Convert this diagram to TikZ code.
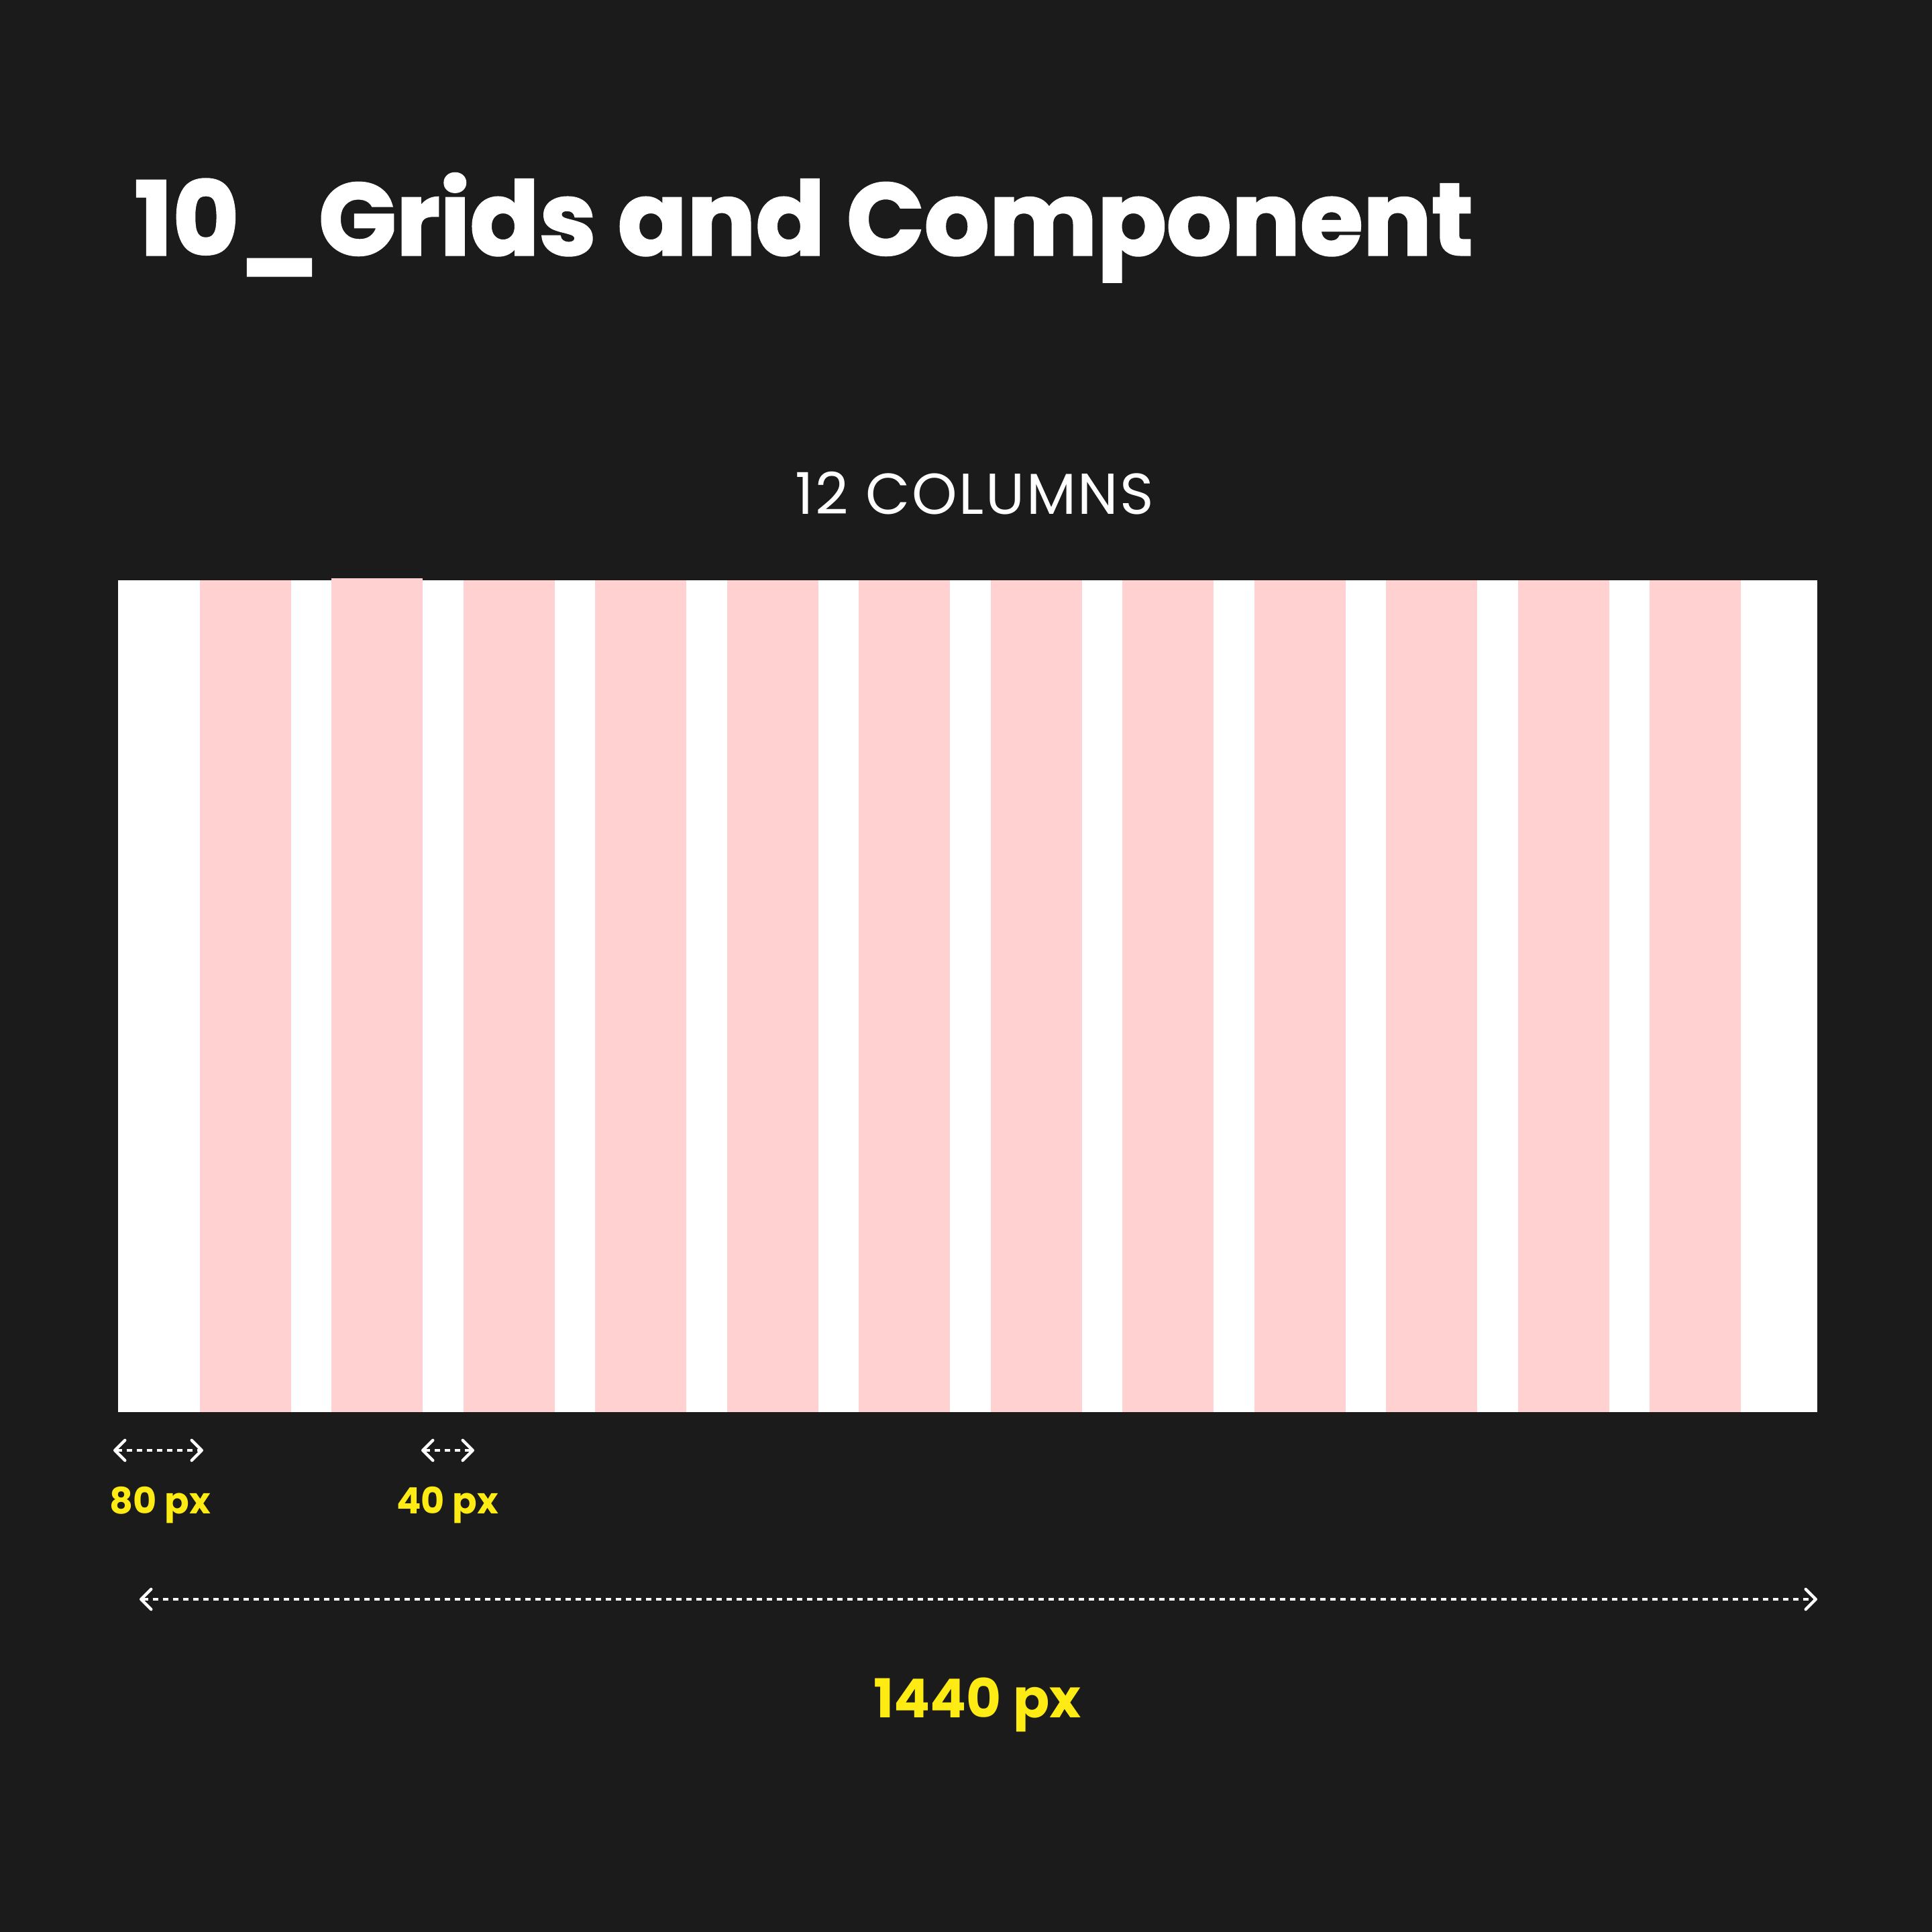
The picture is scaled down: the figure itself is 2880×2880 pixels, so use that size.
\documentclass[tikz,border=0pt]{standalone}
\usepackage{fontspec}
\setmainfont{Poppins}
\usetikzlibrary{arrows.meta, positioning}

\definecolor{pagebg}{HTML}{1B1B1B}
\definecolor{colpink}{HTML}{FFD1D1}
\definecolor{dimyellow}{HTML}{FFEB14}

\begin{document}
\begin{tikzpicture}[
    x=1pt, y=-1pt,
    heading/.style={anchor=base west, inner sep=0pt, text=white, font=\fontsize{152}{160}\selectfont\bfseries\addfontfeatures{FakeBold=2}},
    caption/.style={anchor=base, inner sep=0pt, text=white, font=\fontsize{86}{90}\selectfont\addfontfeatures{LetterSpace=3}},
    dimlabel/.style={anchor=base, inner sep=0pt, text=dimyellow, font=\fontsize{54}{60}\selectfont\bfseries},
    biglabel/.style={anchor=base, inner sep=0pt, text=dimyellow, font=\fontsize{80}{90}\selectfont\bfseries},
    dimline/.style={white, line width=4pt, dash pattern=on 8pt off 7pt,
        {Straight Barb[round, length=15pt, width=30pt, line width=4.5pt]}-{Straight Barb[round, length=15pt, width=30pt, line width=4.5pt]}}
]
    % Page background and frame
    \fill[pagebg] (0,0) rectangle (2880,2880);
    \useasboundingbox (0,0) rectangle (2880,2880);
    % Title and caption
    \node[heading] (title) at (200,380) {10\_Grids and Component};
    \node[caption] (cols) at (1453,766) {12 COLUMNS};
    % Screen area with 12 columns
    \fill[white] (176,865) rectangle (2709,2105);
    \foreach \i in {0,...,11}
        \fill[colpink] ({297.5+196.5*\i},865) rectangle ++(136,1240);
    \fill[colpink] (494,862) rectangle ++(136,1241);
    % Dimension marks
    \coordinate (margL) at (169,2162);
    \coordinate (margR) at (303,2162);
    \coordinate (gutL) at (628,2162);
    \coordinate (gutR) at (707,2162);
    \coordinate (fullL) at (208,2384);
    \coordinate (fullR) at (2709,2384);
    \draw[dimline] (margL) -- (margR);
    \draw[dimline] (gutL) -- (gutR);
    \draw[dimline] (fullL) -- (fullR);
    \node[dimlabel] (margin) at (239,2256) {80 px};
    \node[dimlabel] (gutter) at (667,2256) {40 px};
    \node[biglabel] (width) at (1457,2560) {1440 px};
\end{tikzpicture}
\end{document}
